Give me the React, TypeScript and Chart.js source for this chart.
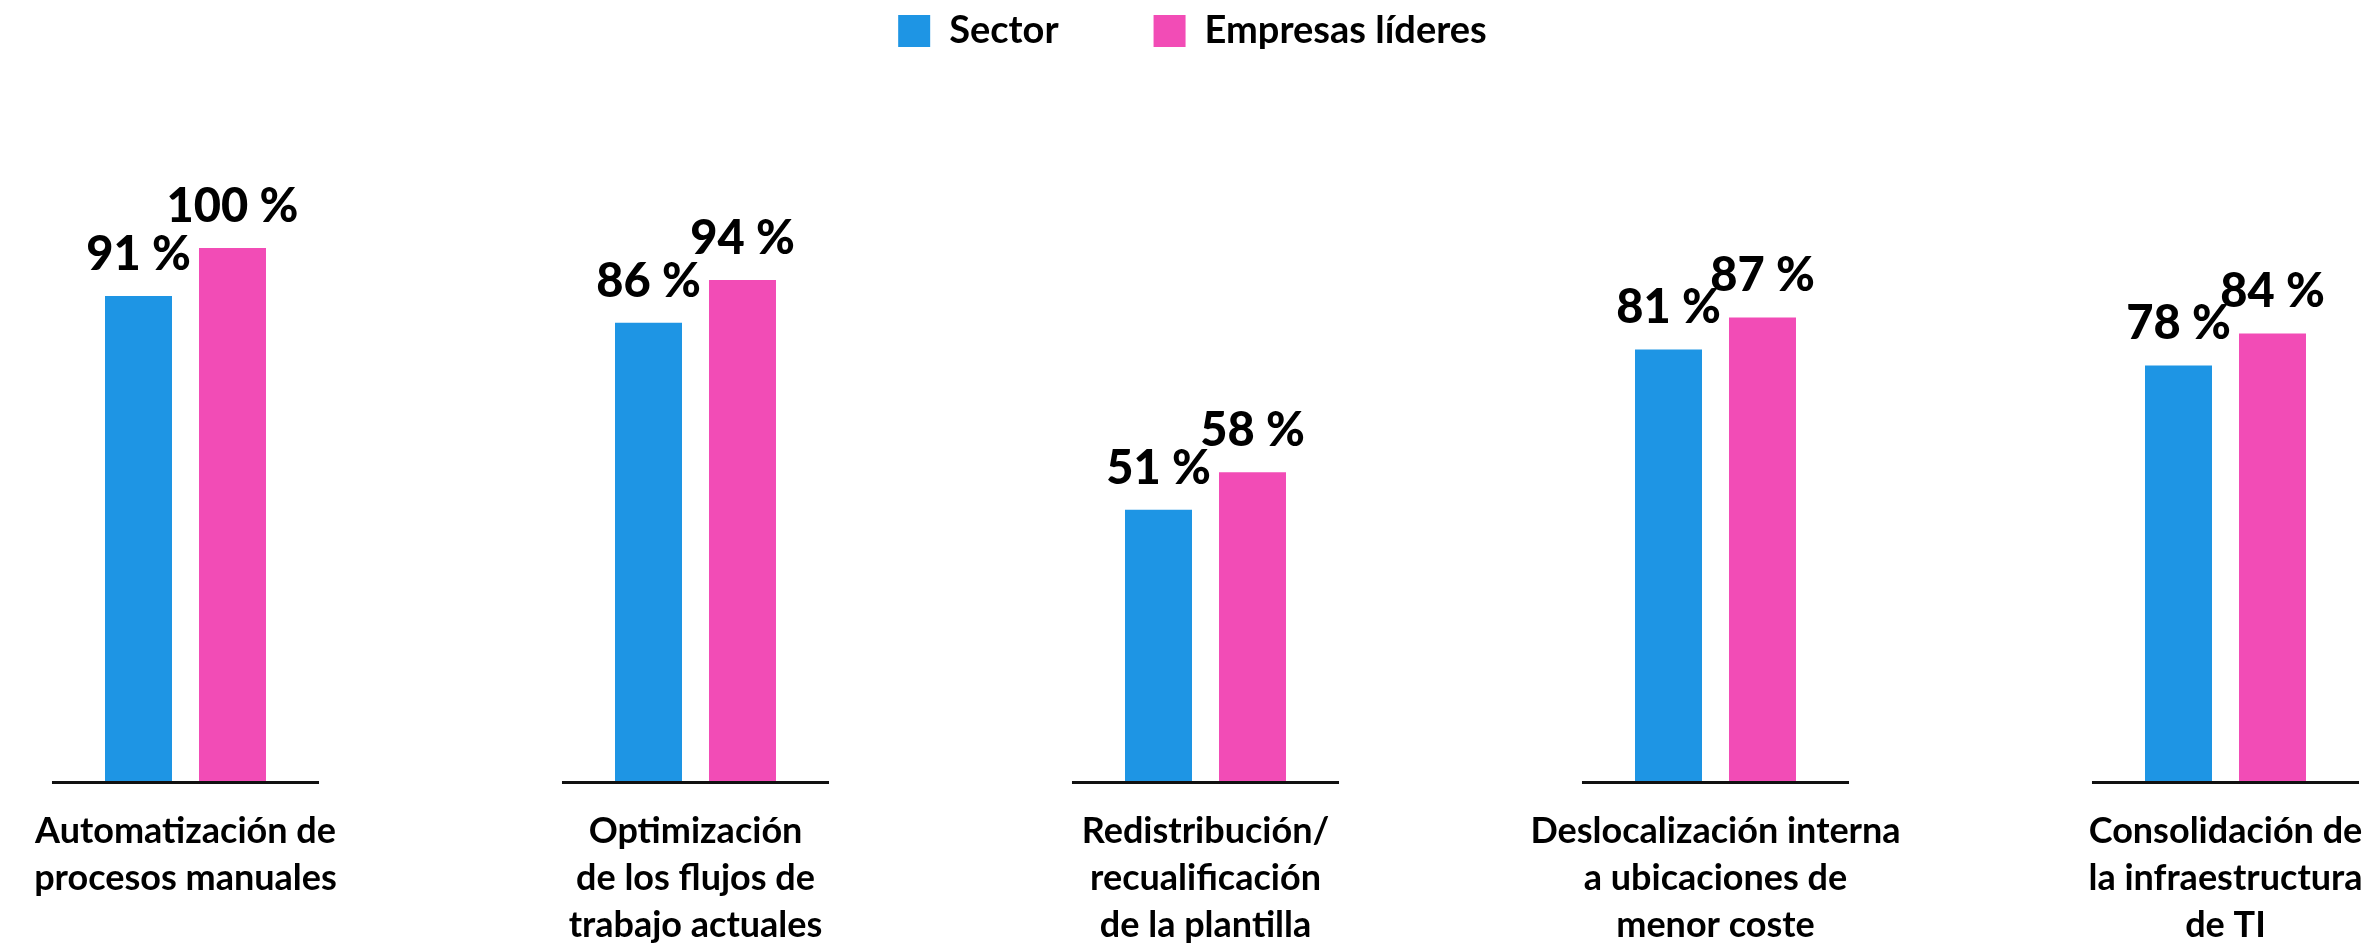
import React, { useEffect, useRef } from 'react';
import { Chart, registerables } from 'chart.js';

Chart.register(...registerables);

const categories: string[][] = [
  ['Automatización de', 'procesos manuales'],
  ['Optimización', 'de los flujos de', 'trabajo actuales'],
  ['Redistribución/', 'recualificación', 'de la plantilla'],
  ['Deslocalización interna', 'a ubicaciones de', 'menor coste'],
  ['Consolidación de', 'la infraestructura', 'de TI'],
];
const seriesNames = ['Sector', 'Empresas líderes'];
const sectorValues = [91, 86, 51, 81, 78];
const leaderValues = [100, 94, 58, 87, 84];
const seriesColors = ['#1E95E4', '#F24CB6'];

const FONT = 'Lato, "Open Sans", sans-serif';

const legendSizePlugin = {
  id: 'legendSize',
  beforeLayout(chart: any) {
    const lg = chart.legend;
    if (lg && !lg.__patched) {
      const orig = lg.fit.bind(lg);
      lg.fit = function () {
        orig();
        this.height = 331;
      };
      lg.__patched = true;
    }
  },
  afterLayout(chart: any) {
    const lg = chart.legend;
    if (lg) {
      lg.left -= 13;
      lg.right -= 13;
    }
  },
};

const axisSegmentsPlugin = {
  id: 'axisSegments',
  afterDatasetsDraw(chart: any) {
    const { ctx, chartArea } = chart;
    const xs = chart.scales.x;
    const n = categories.length;
    const step = n > 1 ? xs.getPixelForTick(1) - xs.getPixelForTick(0) : 510;
    const half = step * 0.2618;
    ctx.save();
    ctx.strokeStyle = '#111';
    ctx.lineWidth = 3;
    for (let i = 0; i < n; i++) {
      const cx = xs.getPixelForTick(i);
      ctx.beginPath();
      ctx.moveTo(cx - half, chartArea.bottom + 0.5);
      ctx.lineTo(cx + half, chartArea.bottom + 0.5);
      ctx.stroke();
    }
    ctx.restore();
  },
};

const valueLabelsPlugin = {
  id: 'valueLabels',
  afterDatasetsDraw(chart: any) {
    const { ctx } = chart;
    ctx.save();
    ctx.font = `900 47px ${FONT}`;
    ctx.fillStyle = '#000';
    ctx.textAlign = 'center';
    ctx.textBaseline = 'alphabetic';
    chart.data.datasets.forEach((ds: any, di: number) => {
      const meta = chart.getDatasetMeta(di);
      meta.data.forEach((el: any, i: number) => {
        ctx.fillText(`${ds.data[i]} %`, el.x, el.y - 26);
      });
    });
    ctx.restore();
  },
};

export default function App() {
  const canvasRef = useRef<HTMLCanvasElement | null>(null);

  useEffect(() => {
    if (!canvasRef.current) return;
    Chart.defaults.color = '#000';
    const chart = new Chart(canvasRef.current, {
      type: 'bar',
      data: {
        labels: categories,
        datasets: [
          {
            label: seriesNames[0],
            data: sectorValues,
            backgroundColor: seriesColors[0],
            categoryPercentage: 0.3686,
            barPercentage: 0.7128,
            clip: false,
          } as any,
          {
            label: seriesNames[1],
            data: leaderValues,
            backgroundColor: seriesColors[1],
            categoryPercentage: 0.3686,
            barPercentage: 0.7128,
            clip: false,
          } as any,
        ],
      },
      options: {
        responsive: true,
        maintainAspectRatio: false,
        animation: false,
        layout: { padding: { left: 185.5, right: 144.5, top: -83, bottom: 0 } },
        plugins: {
          legend: {
            position: 'top',
            labels: {
              boxWidth: 32,
              boxHeight: 32,
              padding: 95,
              color: '#000',
              font: { family: FONT, size: 38, weight: 'bold' },
            },
          },
          tooltip: { enabled: false },
          title: { display: false },
        },
        scales: {
          x: {
            offset: false,
            grid: { display: false, drawTicks: false },
            border: { display: false },
            ticks: {
              color: '#000',
              padding: 26,
              maxRotation: 0,
              autoSkip: false,
              font: { family: FONT, size: 36, weight: 'bold', lineHeight: 47 / 36 },
            },
            afterFit: (scale: any) => {
              scale.paddingLeft = 0;
              scale.paddingRight = 0;
              scale.height = 161;
            },
          },
          y: {
            display: false,
            min: 0,
            max: 100,
          },
        },
      },
      plugins: [legendSizePlugin, axisSegmentsPlugin, valueLabelsPlugin],
    });
    return () => chart.destroy();
  }, []);

  return (
    <div style={{ position: 'fixed', left: 0, top: 0, width: 2370, height: 943, background: '#fff' }}>
      <canvas ref={canvasRef} />
    </div>
  );
}
